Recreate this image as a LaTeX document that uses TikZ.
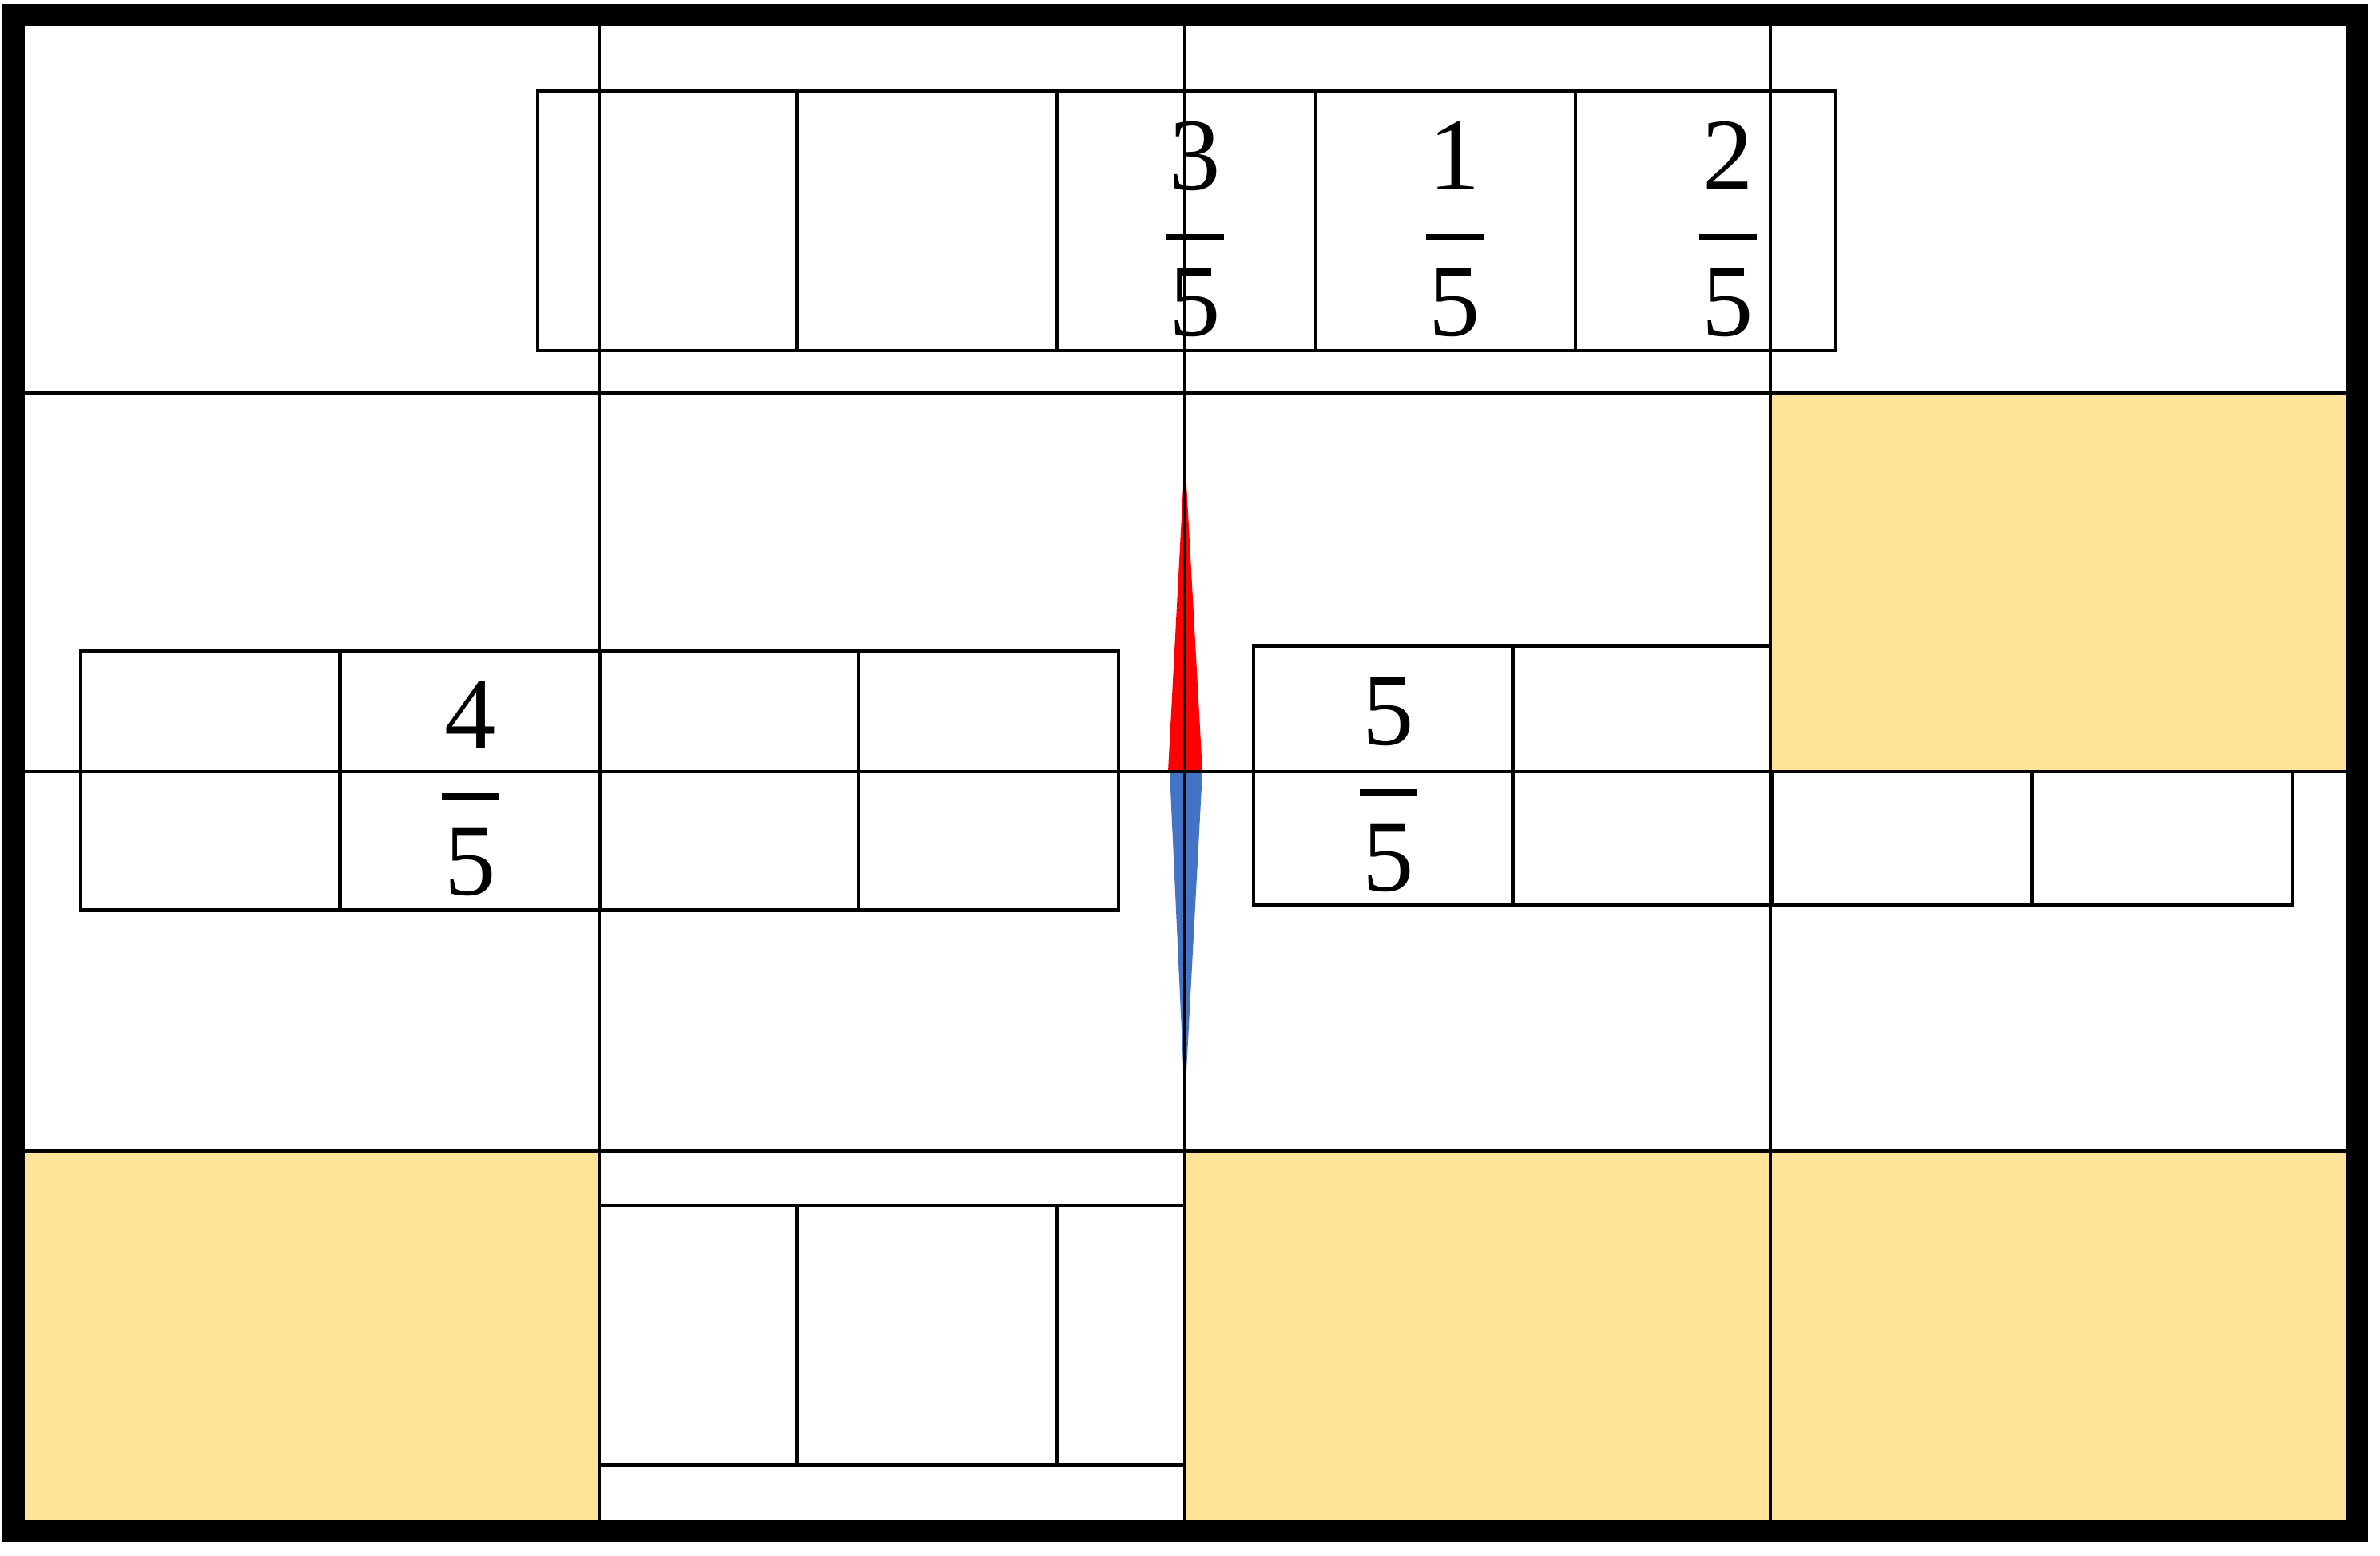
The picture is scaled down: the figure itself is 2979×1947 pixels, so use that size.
\documentclass[tikz,border=0pt]{standalone}
\usepackage{fontspec}
\setmainfont{Liberation Serif}
\definecolor{sand}{HTML}{FFE399}
\definecolor{pointerblue}{HTML}{4472C4}
\tikzset{
  cell/.style={draw, line width=0.045cm, minimum width=3.25cm, minimum height=3.25cm, inner sep=0pt},
  grid line/.style={line width=0.045cm},
  digit/.style={anchor=base, inner sep=0pt, font=\fontsize{36.6}{40}\selectfont},
  bar/.style={line width=0.08cm}
}
\begin{document}
\begin{tikzpicture}[x=0.01cm, y=-0.01cm]
    \useasboundingbox (0,0) rectangle (2979,1947);
    % top strip
    \node[cell] (top1) at (835.5,276.5) {};
    \node[cell] (top2) at (1160,276.5) {};
    \node[cell] (top3) at (1484.5,276.5) {};
    \node[cell] (top4) at (1809.5,276.5) {};
    \node[cell] (top5) at (2134.5,276.5) {};
    % bottom strip, mostly under the sand cells
    \node[cell] (low1) at (835.5,1671.5) {};
    \node[cell] (low2) at (1160,1671.5) {};
    \node[cell] (low3) at (1484.5,1671.5) {};
    \node[cell] (low4) at (1809.5,1671.5) {};
    \node[cell] (low5) at (2134.5,1671.5) {};
    % left strip
    \node[cell] (left1) at (263.5,977) {};
    \node[cell] (left2) at (588,977) {};
    \node[cell] (left3) at (912.5,977) {};
    \node[cell] (left4) at (1237.5,977) {};
    % right strip
    \node[cell] (right1) at (1731.5,971) {};
    \node[cell] (right2) at (2056,971) {};
    \node[cell] (right3) at (2381,971) {};
    \node[cell] (right4) at (2706.5,971) {};
    % sand cells
    \fill[sand] (2216,492) rectangle (2950,966);
    \fill[sand] (17,1441) rectangle (750,1916);
    \fill[sand] (1483,1441) rectangle (2216,1916);
    \fill[sand] (2216,1441) rectangle (2950,1916);
    % pointer
    \fill[red] (1483,570) -- (1505,966) -- (1462,966) -- cycle;
    \fill[pointerblue] (1483,1378) -- (1505,966) -- (1464,966) -- cycle;
    % grid
    \draw[grid line] (750,18) -- (750,1916);
    \draw[grid line] (1483,18) -- (1483,1916);
    \draw[grid line] (2216,18) -- (2216,1916);
    \draw[grid line] (17,492) -- (2950,492);
    \draw[grid line] (17,966) -- (2950,966);
    \draw[grid line] (17,1441) -- (2950,1441);
    \draw[line width=0.27cm] (17,18) rectangle (2950,1916);
    % fractions
    \node[digit] (n3) at (1496,237) {3};
    \draw[bar] (1460,297) -- (1532,297);
    \node[digit] (d3) at (1496,420) {5};
    \node[digit] (n1) at (1821,237) {1};
    \draw[bar] (1785,297) -- (1857,297);
    \node[digit] (d1) at (1821,420) {5};
    \node[digit] (n2) at (2163,237) {2};
    \draw[bar] (2127,297) -- (2199,297);
    \node[digit] (d2) at (2163,420) {5};
    \node[digit] (n4) at (589,937) {4};
    \draw[bar] (553,997) -- (625,997);
    \node[digit] (d4) at (589,1120) {5};
    \node[digit] (n5) at (1738,932) {5};
    \draw[bar] (1702,992) -- (1774,992);
    \node[digit] (d5) at (1738,1115) {5};
\end{tikzpicture}
\end{document}
